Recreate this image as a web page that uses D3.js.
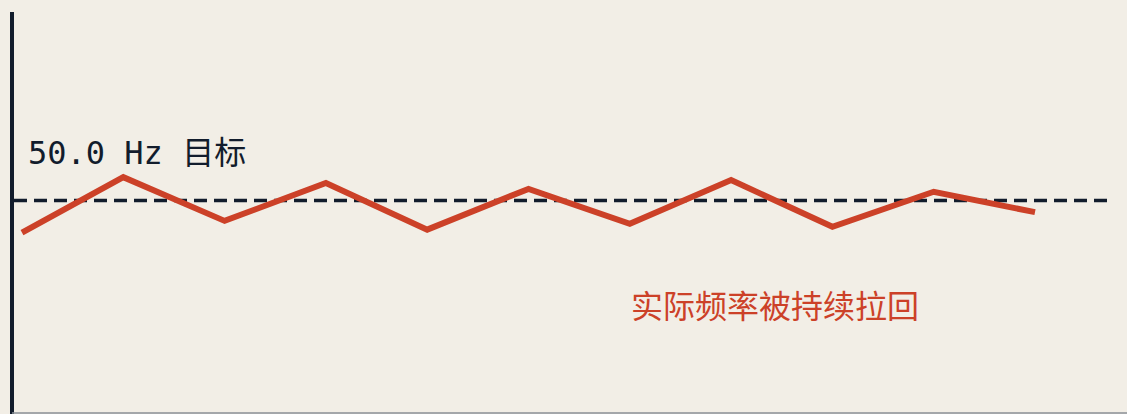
<!DOCTYPE html>
<html>
<head>
<meta charset="utf-8">
<script src="https://cdn.jsdelivr.net/npm/d3@7"></script>
<style>
  html, body { margin: 0; padding: 0; background: #f2eee6; }
  svg { display: block; }
</style>
</head>
<body>
<svg id="chart"></svg>
<script>
// Samples along the time axis and the measured frequency (Hz)
const steps = [0, 1, 2, 3, 4, 5, 6, 7, 8, 9, 10];
const freq = [49.89, 50.08, 49.93, 50.06, 49.90, 50.04, 49.92, 50.07, 49.91, 50.03, 49.96];
const target = 50.0;
const targetLabel = '50.0 Hz 目标';
const noteLabel = '实际频率被持续拉回';

const width = 1127;
const height = 414;

const svg = d3.select('#chart')
  .attr('width', width)
  .attr('height', height);

// Scales
const x = d3.scaleLinear()
  .domain([0, 10])
  .range([22, 1035]);

const y = d3.scaleLinear()
  .domain([49.6, 50.4])
  .range([317, 84]);

// Axis lines
svg.append('line')
  .attr('x1', 12).attr('x2', 12)
  .attr('y1', 12).attr('y2', height)
  .attr('stroke', '#121c2c')
  .attr('stroke-width', 4);

svg.append('line')
  .attr('x1', 12).attr('x2', width)
  .attr('y1', 413).attr('y2', 413)
  .attr('stroke', '#8a8f96')
  .attr('stroke-width', 1.5);

// Target line
svg.append('line')
  .attr('x1', 14).attr('x2', 1114)
  .attr('y1', y(target)).attr('y2', y(target))
  .attr('stroke', '#121c2c')
  .attr('stroke-width', 3.5)
  .attr('stroke-dasharray', '13 7');

svg.append('text')
  .attr('x', 28)
  .attr('y', 164)
  .attr('font-family', 'DejaVu Sans Mono, Noto Sans CJK SC, monospace')
  .attr('font-size', 32)
  .attr('fill', '#121c2c')
  .text(targetLabel);

// Frequency line
const line = d3.line()
  .x((d, i) => x(steps[i]))
  .y(d => y(d));

svg.append('path')
  .datum(freq)
  .attr('d', line)
  .attr('fill', 'none')
  .attr('stroke', '#cc4128')
  .attr('stroke-width', 6)
  .attr('stroke-linejoin', 'miter');

svg.append('text')
  .attr('x', 775)
  .attr('y', 318)
  .attr('text-anchor', 'middle')
  .attr('font-family', 'Noto Sans CJK SC, sans-serif')
  .attr('font-size', 32)
  .attr('fill', '#cc4128')
  .text(noteLabel);
</script>
</body>
</html>
